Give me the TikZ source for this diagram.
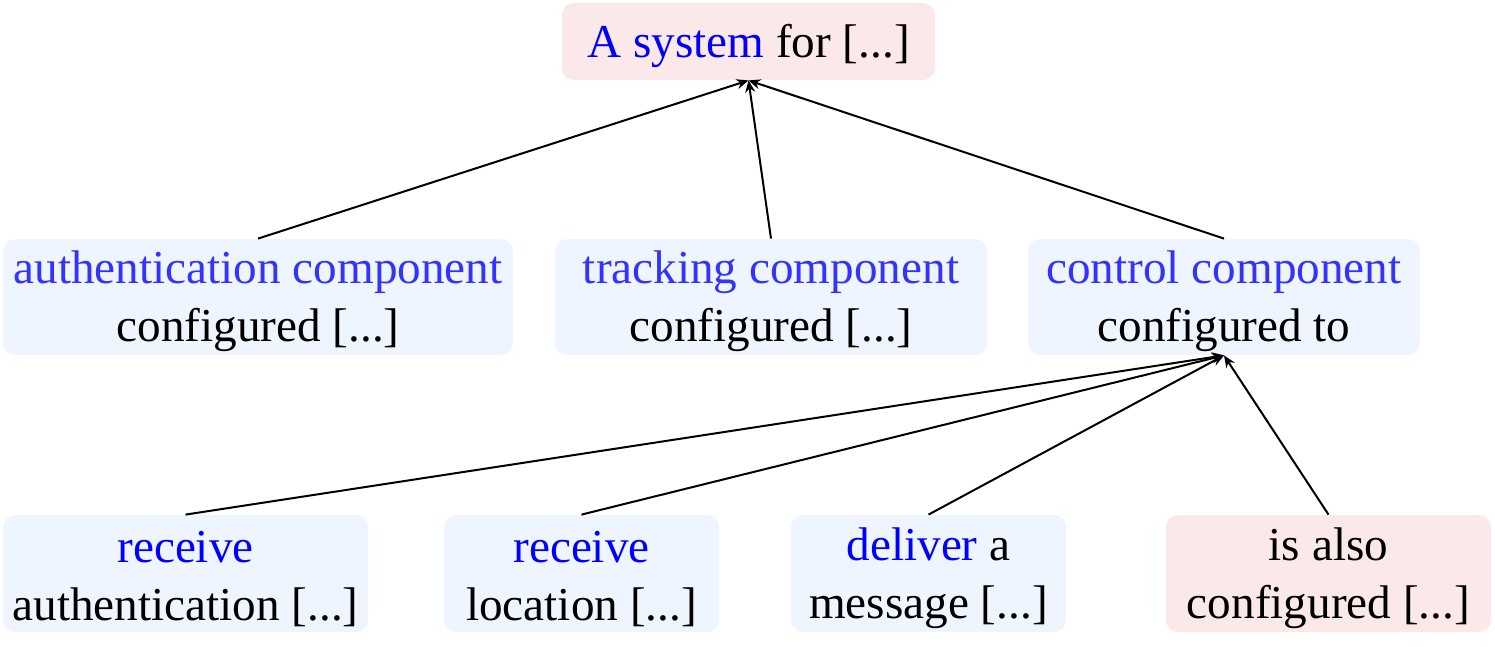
\documentclass[tikz,border=0pt]{standalone}
\usepackage{fontspec}
\setmainfont{Liberation Serif}
\usetikzlibrary{arrows.meta}
\definecolor{pinkbg}{HTML}{FBE9E9}
\definecolor{bluebg}{HTML}{EEF5FE}
\definecolor{kwA}{HTML}{0000FF}
\definecolor{kwB}{HTML}{3333FF}
\newcommand{\toppad}{\rule{0pt}{21pt}}
\tikzset{
  box/.style={rectangle, rounded corners=6pt, inner sep=0pt, align=center,
    font=\fontsize{23.6}{29}\selectfont},
  pinkbox/.style={box, fill=pinkbg},
  bluebox/.style={box, fill=bluebg},
  link/.style={line width=1pt, -{Stealth[length=6pt,width=5pt,inset=2pt]}}
}
\begin{document}
\begin{tikzpicture}[x=0.5pt,y=-0.5pt]
\useasboundingbox (0,0) rectangle (1495,647);
\node[pinkbox, minimum width=186.5pt, minimum height=38.5pt] (top) at (748.5,41.5)
  {\toppad\textcolor{kwA}{A system} for [...]};
\node[bluebox, minimum width=255pt, minimum height=58pt] (auth) at (258,297)
  {\toppad\textcolor{kwB}{authentication component}\\configured [...]};
\node[bluebox, minimum width=216pt, minimum height=58pt] (track) at (771,297)
  {\toppad\textcolor{kwB}{tracking component}\\configured [...]};
\node[bluebox, minimum width=196pt, minimum height=58pt] (ctrl) at (1224,297)
  {\toppad\textcolor{kwB}{control component}\\configured to};
\node[bluebox, minimum width=182.5pt, minimum height=58.5pt] (r1) at (185.5,573.5)
  {\toppad\textcolor{kwA}{receive}\\authentication [...]};
\node[bluebox, minimum width=137.5pt, minimum height=58.5pt] (r2) at (581.5,573.5)
  {\toppad\textcolor{kwA}{receive}\\location [...]};
\node[bluebox, minimum width=137.5pt, minimum height=58.5pt] (r3) at (928.5,573.5)
  {\toppad\textcolor{kwA}{deliver} a\\message [...]};
\node[pinkbox, minimum width=162.5pt, minimum height=58.5pt] (r4) at (1328.5,573.5)
  {\toppad is also\\configured [...]};
\draw[link] (auth.north) -- (top.south);
\draw[link] (track.north) -- (top.south);
\draw[link] (ctrl.north) -- (top.south);
\draw[link] (r1.north) -- (ctrl.south);
\draw[link] (r2.north) -- (ctrl.south);
\draw[link] (r3.north) -- (ctrl.south);
\draw[link] (r4.north) -- (ctrl.south);
\end{tikzpicture}
\end{document}
